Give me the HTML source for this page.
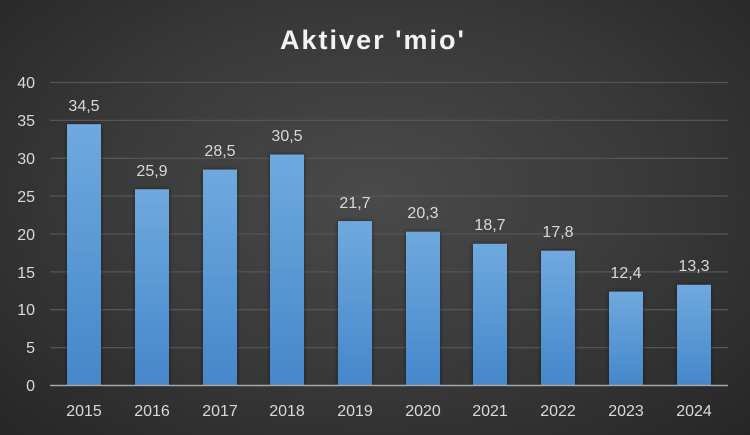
<!DOCTYPE html>
<html><head><style>
html,body{margin:0;padding:0;width:750px;height:435px;overflow:hidden}
body{background:radial-gradient(ellipse at 50% 45%,#4a4a4a 0%,#3a3a3a 50%,#262626 100%);font-family:"Liberation Sans",sans-serif}
svg{display:block}
</style></head><body>
<svg width="750" height="435" xmlns="http://www.w3.org/2000/svg">
<defs>
<linearGradient id="g" x1="0" y1="0" x2="0" y2="1">
<stop offset="0" stop-color="#6fa9de"/><stop offset="1" stop-color="#4587cb"/>
</linearGradient>
<filter id="s" x="-30%" y="-10%" width="160%" height="130%"><feDropShadow dx="0" dy="0" stdDeviation="2" flood-color="#000" flood-opacity="0.5"/></filter>
</defs>
<text x="373" y="49" fill="#f2f2f2" font-size="27" font-weight="bold" text-anchor="middle" letter-spacing="2">Aktiver 'mio'</text>
<g stroke="#555" stroke-width="1.3">
<line x1="50" x2="728" y1="82.5" y2="82.5"/>
<line x1="50" x2="728" y1="120.4" y2="120.4"/>
<line x1="50" x2="728" y1="158.3" y2="158.3"/>
<line x1="50" x2="728" y1="196.1" y2="196.1"/>
<line x1="50" x2="728" y1="234" y2="234"/>
<line x1="50" x2="728" y1="271.9" y2="271.9"/>
<line x1="50" x2="728" y1="309.7" y2="309.7"/>
<line x1="50" x2="728" y1="347.6" y2="347.6"/>
</g>
<g fill="#d9d9d9" font-size="16" text-anchor="end">
<text x="35" y="88">40</text><text x="35" y="126">35</text><text x="35" y="164">30</text><text x="35" y="202">25</text><text x="35" y="240">20</text><text x="35" y="278">15</text><text x="35" y="315">10</text><text x="35" y="353">5</text><text x="35" y="391">0</text>
</g>
<g fill="url(#g)" filter="url(#s)">
<rect x="67" y="124.2" width="34" height="261.3"/>
<rect x="135" y="189.3" width="34" height="196.2"/>
<rect x="203" y="169.6" width="34" height="215.9"/>
<rect x="270" y="154.5" width="34" height="231"/>
<rect x="338" y="221.1" width="34" height="164.4"/>
<rect x="406" y="231.7" width="34" height="153.8"/>
<rect x="473" y="243.8" width="34" height="141.7"/>
<rect x="541" y="250.7" width="34" height="134.8"/>
<rect x="609" y="291.6" width="34" height="93.9"/>
<rect x="677" y="284.8" width="34" height="100.7"/>
</g>
<line x1="50" x2="728" y1="385.5" y2="385.5" stroke="#a6a6a6" stroke-width="1.5"/>
<g fill="#d9d9d9" font-size="16" text-anchor="middle">
<text x="84" y="111">34,5</text><text x="152" y="176">25,9</text><text x="220" y="156">28,5</text><text x="287" y="141">30,5</text><text x="355" y="208">21,7</text><text x="423" y="218">20,3</text><text x="490" y="230">18,7</text><text x="558" y="237">17,8</text><text x="626" y="278">12,4</text><text x="694" y="271">13,3</text>
</g>
<g fill="#d9d9d9" font-size="16" text-anchor="middle">
<text x="84" y="416">2015</text><text x="152" y="416">2016</text><text x="220" y="416">2017</text><text x="287" y="416">2018</text><text x="355" y="416">2019</text><text x="423" y="416">2020</text><text x="490" y="416">2021</text><text x="558" y="416">2022</text><text x="626" y="416">2023</text><text x="694" y="416">2024</text>
</g>
</svg>
</body></html>
